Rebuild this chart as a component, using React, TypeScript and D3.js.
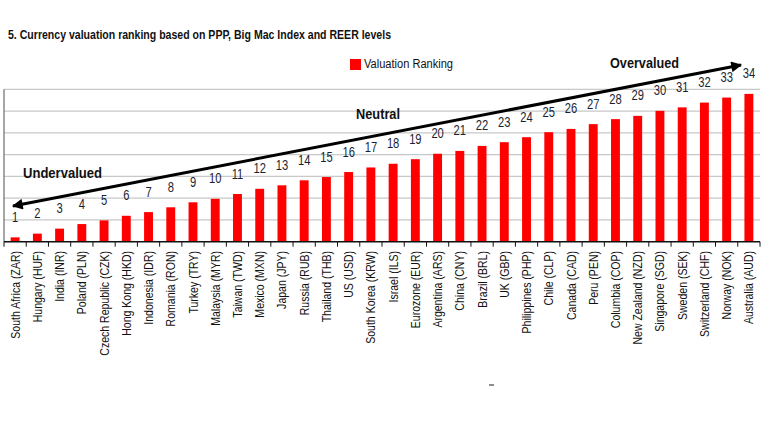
import React from "react";
import * as d3 from "d3";

const categories = [
  "South Africa (ZAR)", "Hungary (HUF)", "India (INR)", "Poland (PLN)", "Czech Republic (CZK)",
  "Hong Kong (HKD)", "Indonesia (IDR)", "Romania (RON)", "Turkey (TRY)", "Malaysia (MYR)",
  "Taiwan (TWD)", "Mexico (MXN)", "Japan (JPY)", "Russia (RUB)", "Thailand (THB)", "US (USD)",
  "South Korea (KRW)", "Israel (ILS)", "Eurozone (EUR)", "Argentina (ARS)", "China (CNY)",
  "Brazil (BRL)", "UK (GBP)", "Philippines (PHP)", "Chile (CLP)", "Canada (CAD)", "Peru (PEN)",
  "Columbia (COP)", "New Zealand (NZD)", "Singapore (SGD)", "Sweden (SEK)", "Switzerland (CHF)",
  "Norway (NOK)", "Australia (AUD)",
];
const values = [
  0.2, 0.37, 0.6, 0.81, 0.98, 1.19, 1.36, 1.58, 1.81, 1.97, 2.19, 2.43, 2.59, 2.82, 2.97, 3.2,
  3.41, 3.58, 3.79, 4.04, 4.17, 4.4, 4.57, 4.8, 5.03, 5.18, 5.4, 5.63, 5.78, 6.01, 6.17, 6.39,
  6.62, 6.79,
];
const ranks = categories.map((_, i) => i + 1);
const gridValues = [1, 2, 3, 4, 5, 6, 7];
const title = "5. Currency valuation ranking based on PPP, Big Mac Index and REER levels";
const seriesName = "Valuation Ranking";

const FONT = "'Liberation Sans', Arial, sans-serif";

export default function App() {
  const left = 4, right = 760, top = 89.3, bottom = 241.7;
  const x = d3.scaleBand<string>().domain(categories).range([left, right]).paddingInner(0.6).paddingOuter(0.3);
  const y = d3.scaleLinear().domain([0, 7]).range([bottom, top]);
  const step = x.step();
  const bw = x.bandwidth();
  const boundaries = d3.range(categories.length + 1).map((i) => left + i * step);

  return (
    <svg width={768} height={432} style={{ position: "absolute", left: 0, top: 0, background: "#fff" }} fontFamily={FONT}>
      <defs>
        <marker id="ah" viewBox="0 0 10 10" refX="9" refY="5" markerWidth="4" markerHeight="3.6" orient="auto-start-reverse" markerUnits="strokeWidth">
          <path d="M0,0 L10,5 L0,10 z" fill="#000" />
        </marker>
      </defs>
      <text x={8} y={39} fontSize={13} fontWeight="bold" fill="#111" textLength={383} lengthAdjust="spacingAndGlyphs">{title}</text>
      <rect x={350} y={59} width={11} height={11} fill="#ff0000" />
      <text x={364} y={68} fontSize={12} fill="#111" textLength={89} lengthAdjust="spacingAndGlyphs">{seriesName}</text>

      {gridValues.map((g) => (
        <line key={g} x1={left} x2={right} y1={y(g)} y2={y(g)} stroke="#c8c8c8" strokeWidth={1.3} />
      ))}
      <line x1={left} x2={left} y1={top} y2={bottom} stroke="#777" strokeWidth={1.3} />

      {categories.map((c, i) => (
        <rect key={c} x={x(c)} y={y(values[i])} width={bw} height={bottom - y(values[i])} fill="#ff0000" />
      ))}

      <line x1={left} x2={right} y1={bottom} y2={bottom} stroke="#111" strokeWidth={1.5} />
      {boundaries.map((b, i) => (
        <line key={i} x1={b} x2={b} y1={bottom} y2={bottom + 5} stroke="#111" strokeWidth={1} />
      ))}

      {categories.map((c, i) => (
        <text key={"v" + c} transform={`translate(${(x(c) as number) + bw / 2},${y(values[i]) - 15.5}) scale(0.8,1)`} textAnchor="middle" fontSize={14} fill="#1a1f33">
          {ranks[i]}
        </text>
      ))}

      {categories.map((c) => (
        <text key={"c" + c} transform={`translate(${(x(c) as number) + bw / 2 + 4.5},251) rotate(-90) scale(0.78,1)`} textAnchor="end" fontSize={13.5} fill="#111">
          {c}
        </text>
      ))}

      <line x1={13} y1={206} x2={741} y2={65} stroke="#000" strokeWidth={3} markerStart="url(#ah)" markerEnd="url(#ah)" />

      <text x={23} y={178} fontSize={14} fontWeight="bold" fill="#111" textLength={79} lengthAdjust="spacingAndGlyphs">Undervalued</text>
      <text x={356} y={119} fontSize={14} fontWeight="bold" fill="#111" textLength={44} lengthAdjust="spacingAndGlyphs">Neutral</text>
      <text x={610} y={68} fontSize={14} fontWeight="bold" fill="#111" textLength={69} lengthAdjust="spacingAndGlyphs">Overvalued</text>

      <line x1={489} x2={494} y1={385} y2={385} stroke="#666" strokeWidth={1.5} />
    </svg>
  );
}
